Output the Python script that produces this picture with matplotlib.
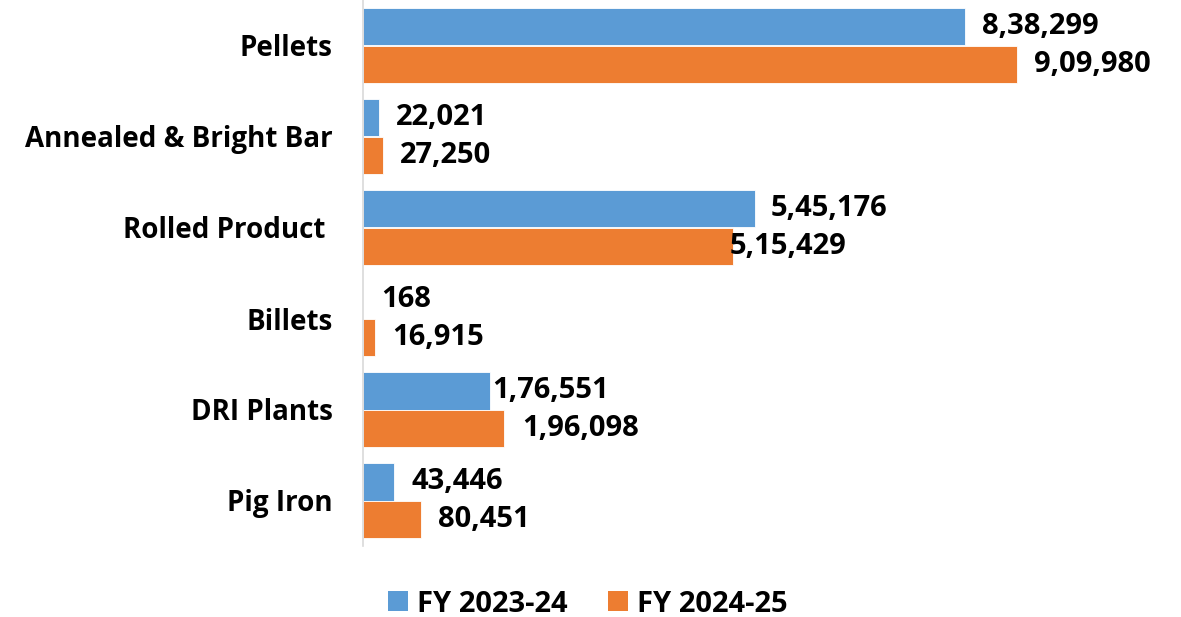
import matplotlib
matplotlib.use("Agg")
import matplotlib.pyplot as plt
from matplotlib.patches import Patch

categories = ["Pellets", "Annealed & Bright Bar", "Rolled Product ", "Billets", "DRI Plants", "Pig Iron"]
fy2324 = [838299, 22021, 545176, 168, 176551, 43446]
fy2425 = [909980, 27250, 515429, 16915, 196098, 80451]
series_names = ["FY 2023-24", "FY 2024-25"]

# label x-offsets in pixels (layout only)
off_2324 = [17, 17, 16, 18, 2, 17]
off_2425 = [17, 17, -4, 17, 18, 17]

BLUE = "#5B9BD5"
ORANGE = "#ED7D31"
FONT = "Open Sans"
FS = 20
FS_LBL = 21

W, H = 1181, 617
fig = plt.figure(figsize=(W / 100, H / 100), dpi=100)
left_px, right_px, top_px, bottom_px = 363, 1153, 0, 546
ax = fig.add_axes([left_px / W, 1 - bottom_px / H, (right_px - left_px) / W, (bottom_px - top_px) / H])

def fmt_indian(n):
    s = str(int(n))
    if len(s) <= 3:
        return s
    last3 = s[-3:]
    rest = s[:-3]
    parts = []
    while len(rest) > 2:
        parts.insert(0, rest[-2:])
        rest = rest[:-2]
    if rest:
        parts.insert(0, rest)
    return ",".join(parts) + "," + last3

h = 0.407
ys = list(range(len(categories)))
yb = [y - h / 2 for y in ys]
yo = [y + h / 2 for y in ys]
ax.barh(yb, fy2324, height=h, color=BLUE, edgecolor="white", linewidth=0.6)
ax.barh(yo, fy2425, height=h, color=ORANGE, edgecolor="white", linewidth=0.6)

for y, v, o in zip(yb, fy2324, off_2324):
    ax.annotate(fmt_indian(v), (v, y), xytext=(o, 0), textcoords="offset pixels",
                ha="left", va="center", fontsize=FS_LBL, fontweight="bold", family=FONT, color="black")
for y, v, o in zip(yo, fy2425, off_2425):
    ax.annotate(fmt_indian(v), (v, y), xytext=(o, 0), textcoords="offset pixels",
                ha="left", va="center", fontsize=FS_LBL, fontweight="bold", family=FONT, color="black")

ax.set_xlim(0, 1.1e6)
ax.set_ylim(-0.5, len(categories) - 0.5)
ax.invert_yaxis()
ax.set_yticks(ys)
ax.set_yticklabels(categories, fontsize=FS, fontweight="bold", family=FONT)
ax.tick_params(axis="y", length=0, pad=22)
ax.set_xticks([])
for s in ["top", "right", "bottom"]:
    ax.spines[s].set_visible(False)
ax.spines["left"].set_color("#D9D9D9")
ax.spines["left"].set_linewidth(1.2)

handles = [Patch(facecolor=BLUE, label=series_names[0]), Patch(facecolor=ORANGE, label=series_names[1])]
fig.legend(handles=handles, loc="center", bbox_to_anchor=(588 / W, 1 - 604 / H), ncol=2, frameon=False,
           prop={"family": FONT, "weight": "bold", "size": FS_LBL}, handlelength=0.68, handleheight=0.68,
           handletextpad=0.3, columnspacing=1.4)

fig.savefig("out.png", dpi=100)
